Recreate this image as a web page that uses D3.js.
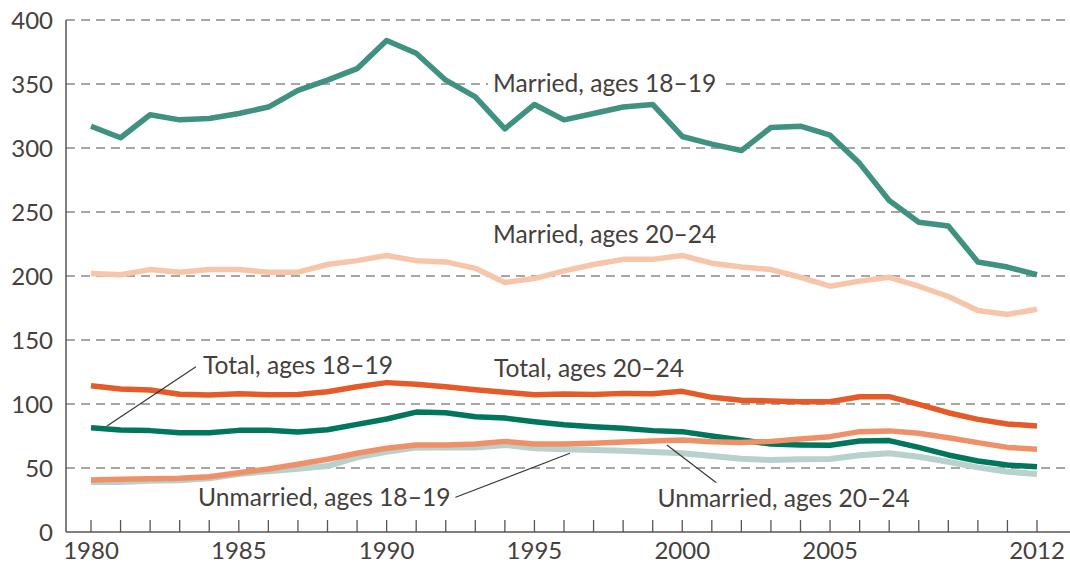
<!DOCTYPE html>
<html>
<head>
<meta charset="utf-8">
<script src="https://cdn.jsdelivr.net/npm/d3@7"></script>
<style>
  body { margin: 0; background: #fff; }
  svg { display: block; }
</style>
</head>
<body>
<script>
var years = d3.range(1980, 2013);

var marriedTeen = [317, 308, 326, 322, 323, 327, 332, 345, 353, 362, 384, 374, 353, 340, 315, 334, 322, 327, 332, 334,
	309, 303, 298, 316, 317, 310, 288, 259, 242, 239, 211, 207, 201];
var marriedYoung = [202, 201, 205, 203, 205, 205, 203, 203, 209, 212, 216, 212, 211, 206, 195, 198, 204, 209, 213, 213,
	216, 210, 207, 205, 199, 192, 196, 199, 192, 184, 173, 170, 174];
var totalTeen = [81.5, 79.7, 79.2, 77.6, 77.6, 79.4, 79.4, 78.1, 79.9, 84.1, 88.3, 93.7, 93.2, 90.1, 89, 86.2, 83.8, 82.3, 81, 79.2,
	78.4, 75, 71.9, 68.7, 68, 67.7, 71.1, 71.4, 66.1, 60.2, 55.5, 52.3, 51];
var totalYoung = [114.3, 111.7, 111, 107.6, 107, 108, 107.3, 107.5, 109.6, 113.5, 116.7, 115.4, 113.5, 111.2, 109.1, 107.3, 107.8, 107.5, 108.3, 108,
	109.9, 105.2, 103, 102.3, 101.8, 101.8, 105.7, 105.7, 99.7, 93.2, 88, 84.4, 82.8];
var unmarriedTeen = [39, 39, 40, 40.5, 42, 45.3, 47.5, 49.5, 51.5, 58.3, 62.7, 65.9, 66, 66, 68, 65.4, 64.6, 64, 63.5, 62.5,
	61.5, 59.4, 57.3, 56.2, 56.8, 57, 59.9, 61.5, 58.8, 54.9, 50.5, 47.1, 45.3];
var unmarriedYoung = [40.6, 41.2, 41.6, 41.9, 43.2, 46.3, 49.2, 52.9, 56.8, 61.5, 65.4, 68, 68, 68.7, 70.8, 68.7, 68.7, 69.3, 70.3, 71.1,
	71.9, 70.6, 70, 70.8, 72.7, 74.5, 78.4, 79, 77.1, 73.7, 69.8, 66.1, 64.6];

var yTicks = [0, 50, 100, 150, 200, 250, 300, 350, 400];
var xTickLabels = [1980, 1985, 1990, 1995, 2000, 2005, 2012];

var width = 1070;
var height = 565;
var fontFamily = "Lato, 'Noto Sans', sans-serif";
var textColor = "#45403c";

var svg = d3.select("body").append("svg")
	.attr("width", width)
	.attr("height", height);

var x = d3.scaleLinear().domain([1980, 2012]).range([91, 1037]);
var y = d3.scaleLinear().domain([0, 400]).range([532, 20]);
var left = 66;

// dashed grid
svg.append("g")
	.selectAll("line")
	.data(yTicks.filter(function(d) { return d > 0; }))
	.enter().append("line")
	.attr("x1", left)
	.attr("x2", width)
	.attr("y1", function(d) { return y(d); })
	.attr("y2", function(d) { return y(d); })
	.attr("stroke", "#8d8884")
	.attr("stroke-width", 1.4)
	.attr("stroke-dasharray", "9,6");

// y labels
svg.append("g")
	.selectAll("text")
	.data(yTicks)
	.enter().append("text")
	.attr("x", 53)
	.attr("y", function(d) { return y(d) + 9; })
	.attr("text-anchor", "end")
	.attr("font-family", fontFamily)
	.attr("font-size", "24px")
	.attr("fill", textColor)
	.text(function(d) { return d; });

// axes lines
svg.append("line")
	.attr("x1", left).attr("x2", left)
	.attr("y1", y(400)).attr("y2", y(0))
	.attr("stroke", "#5a5551").attr("stroke-width", 1.5);

svg.append("line")
	.attr("x1", left).attr("x2", width)
	.attr("y1", y(0)).attr("y2", y(0))
	.attr("stroke", "#5a5551").attr("stroke-width", 1.5);

svg.append("g")
	.selectAll("line")
	.data(years)
	.enter().append("line")
	.attr("x1", function(d) { return x(d); })
	.attr("x2", function(d) { return x(d); })
	.attr("y1", y(0))
	.attr("y2", y(0) - 12)
	.attr("stroke", "#5a5551")
	.attr("stroke-width", 1.3);

svg.append("g")
	.selectAll("text")
	.data(xTickLabels)
	.enter().append("text")
	.attr("x", function(d) { return x(d); })
	.attr("y", 559)
	.attr("text-anchor", "middle")
	.attr("font-family", fontFamily)
	.attr("font-size", "24px")
	.attr("fill", textColor)
	.text(function(d) { return d; });

// series
var line = d3.line()
	.x(function(d, i) { return x(years[i]); })
	.y(function(d) { return y(d); });

function drawSeries(values, color, w) {
	svg.append("path")
		.datum(values)
		.attr("d", line)
		.attr("fill", "none")
		.attr("stroke", color)
		.attr("stroke-width", w)
		.attr("stroke-linejoin", "round");
}

drawSeries(unmarriedTeen, "#b9d1cc", 6);
drawSeries(totalTeen, "#00775c", 5.5);
drawSeries(unmarriedYoung, "#ee9068", 5.5);
drawSeries(totalYoung, "#e45a28", 5.5);
drawSeries(marriedYoung, "#f7c5a9", 5.5);
drawSeries(marriedTeen, "#3f9180", 5.5);

// annotations
function pointer(x1, y1, x2, y2) {
	svg.append("line")
		.attr("x1", x(x1)).attr("y1", y(y1))
		.attr("x2", x(x2)).attr("y2", y(y2))
		.attr("stroke", "#3a3633")
		.attr("stroke-width", 1.2);
}

function label(txt, xv, yv, anchor) {
	var g = svg.append("g");
	var t = g.append("text")
		.attr("x", x(xv))
		.attr("y", y(yv))
		.attr("text-anchor", anchor || "start")
		.attr("font-family", fontFamily)
		.attr("font-size", "24.6px")
		.attr("fill", textColor)
		.text(txt);
	var b = t.node().getBBox();
	g.insert("rect", "text")
		.attr("x", b.x - 5)
		.attr("y", b.y)
		.attr("width", b.width + 10)
		.attr("height", b.height)
		.attr("fill", "#fff");
}

pointer(1980.54, 82.8, 1983.55, 129.1);
pointer(1992.18, 25.8, 1996.2, 61.5);
pointer(1999.48, 68, 2001.33, 35.4);

label("Married, ages 18\u201319", 1993.6, 344);
label("Married, ages 20\u201324", 1993.6, 225.5);
label("Total, ages 18\u201319", 1983.79, 123.2);
label("Total, ages 20\u201324", 1993.63, 120.9);
label("Unmarried, ages 18\u201319", 1983.62, 20.3);
label("Unmarried, ages 20\u201324", 2007.7, 19.8, "end");
</script>
</body>
</html>
